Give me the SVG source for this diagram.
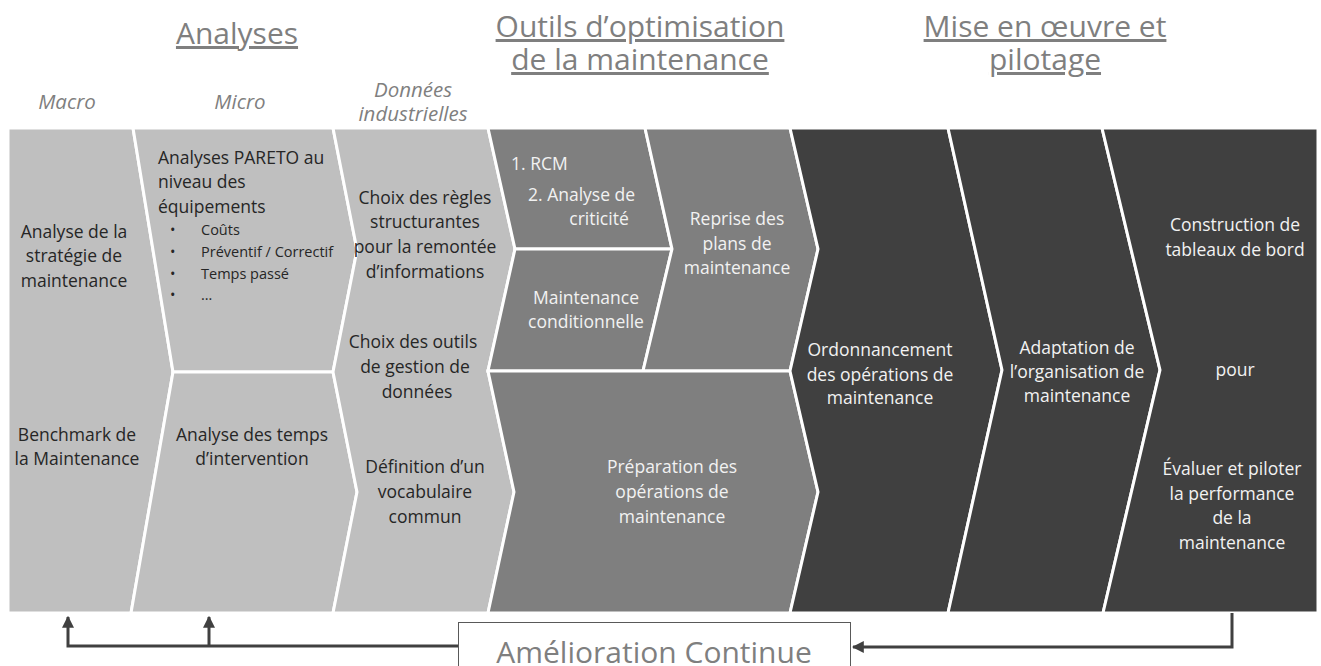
<svg xmlns="http://www.w3.org/2000/svg" width="1321" height="666" viewBox="0 0 1321 666">
<defs>
<style>
.light{fill:#bfbfbf;stroke:#ffffff;stroke-width:3;stroke-linejoin:miter}
.mid{fill:#7f7f7f;stroke:#ffffff;stroke-width:3;stroke-linejoin:miter}
.dark{fill:#404040;stroke:#ffffff;stroke-width:3;stroke-linejoin:miter}
text{font-family:"Open Sans","Noto Sans","Liberation Sans",sans-serif}
.t{font-size:17.5px;fill:#262626;text-anchor:middle}
.tl{font-size:17.5px;fill:#262626}
.s{font-size:14.5px;fill:#262626}
.w{font-size:17.5px;fill:#f2f2f2;text-anchor:middle}
.wl{font-size:17.5px;fill:#f2f2f2}
.h{font-size:30px;fill:#7f7f7f;text-anchor:middle;text-decoration:underline}
.sub{font-size:20.5px;fill:#7f7f7f;text-anchor:middle;font-style:italic}
.conn{fill:none;stroke:#404040;stroke-width:3}
</style>
<marker id="ah" viewBox="0 0 10 10" refX="9" refY="5" markerWidth="4" markerHeight="4" orient="auto" markerUnits="strokeWidth">
<path d="M0,0 L10,5 L0,10 z" fill="#404040"/>
</marker>
</defs>
<rect width="1321" height="666" fill="#ffffff"/>

<g id="headers">
<text class="h" x="237" y="44">Analyses</text>
<text class="h" x="640" y="37">Outils d’optimisation</text>
<text class="h" x="640" y="70">de la maintenance</text>
<text class="h" x="1045" y="37">Mise en œuvre et</text>
<text class="h" x="1045" y="70">pilotage</text>
<text class="sub" x="67" y="109">Macro</text>
<text class="sub" x="240" y="109">Micro</text>
<text class="sub" x="413" y="97">Données</text>
<text class="sub" x="413" y="121">industrielles</text>
</g>

<g id="macro">
<polygon class="light" points="8,128 133,128 173,372 131,613 8,613"/>
<text class="t" x="74" y="238">Analyse de la</text>
<text class="t" x="74" y="262">stratégie de</text>
<text class="t" x="74" y="287">maintenance</text>
<text class="t" x="77" y="441">Benchmark de</text>
<text class="t" x="77" y="465">la Maintenance</text>
</g>

<g id="micro-upper">
<polygon class="light" points="133,128 333,128 357,250 333,372 173,372"/>
<text class="tl" x="158" y="164">Analyses PARETO au</text>
<text class="tl" x="158" y="188">niveau des</text>
<text class="tl" x="158" y="213">équipements</text>
<text class="s" x="170" y="235">•</text><text class="s" x="201" y="235">Coûts</text>
<text class="s" x="170" y="257">•</text><text class="s" x="201" y="257">Préventif / Correctif</text>
<text class="s" x="170" y="279">•</text><text class="s" x="201" y="279">Temps passé</text>
<text class="s" x="170" y="300">•</text><text class="s" x="201" y="300">…</text>
</g>

<g id="micro-lower">
<polygon class="light" points="173,372 333,372 357,492 333,613 131,613"/>
<text class="t" x="252" y="441">Analyse des temps</text>
<text class="t" x="252" y="465">d’intervention</text>
</g>

<g id="donnees">
<polygon class="light" points="333,128 488,128 515,249 488,371 514,492 488,613 333,613 357,492 333,372 357,250"/>
<text class="t" x="425" y="204">Choix des règles</text>
<text class="t" x="425" y="228">structurantes</text>
<text class="t" x="425" y="253">pour la remontée</text>
<text class="t" x="425" y="278">d’informations</text>
<text class="t" x="413" y="348">Choix des outils</text>
<text class="t" x="415" y="373">de gestion de</text>
<text class="t" x="417" y="398">données</text>
<text class="t" x="425" y="473">Définition d’un</text>
<text class="t" x="425" y="498">vocabulaire</text>
<text class="t" x="425" y="523">commun</text>
</g>

<g id="rcm">
<polygon class="mid" points="488,128 645,128 672,249 515,249"/>
<text class="wl" x="511" y="170">1. RCM</text>
<text class="wl" x="528" y="201">2.  Analyse de</text>
<text class="w" x="599" y="225">criticité</text>
</g>

<g id="maint-cond">
<polygon class="mid" points="515,249 672,249 643,371 488,371"/>
<text class="w" x="586" y="304">Maintenance</text>
<text class="w" x="586" y="328">conditionnelle</text>
</g>

<g id="reprise">
<polygon class="mid" points="645,128 790,128 818,249 790,371 643,371 672,249"/>
<text class="w" x="737" y="225">Reprise des</text>
<text class="w" x="737" y="250">plans de</text>
<text class="w" x="737" y="274">maintenance</text>
</g>

<g id="preparation">
<polygon class="mid" points="488,371 790,371 818,492 790,613 488,613 514,492"/>
<text class="w" x="672" y="473">Préparation des</text>
<text class="w" x="672" y="498">opérations de</text>
<text class="w" x="672" y="523">maintenance</text>
</g>

<g id="ordonnancement">
<polygon class="dark" points="790,128 948,128 1002,370 948,613 790,613 818,492 790,371 818,249"/>
<text class="w" x="880" y="356">Ordonnancement</text>
<text class="w" x="880" y="381">des opérations de</text>
<text class="w" x="880" y="404">maintenance</text>
</g>

<g id="adaptation">
<polygon class="dark" points="948,128 1102,128 1160,370 1103,613 948,613 1002,370"/>
<text class="w" x="1077" y="354">Adaptation de</text>
<text class="w" x="1077" y="378">l’organisation de</text>
<text class="w" x="1077" y="402">maintenance</text>
</g>

<g id="pilotage">
<polygon class="dark" points="1102,128 1318,128 1318,613 1103,613 1160,370"/>
<text class="w" x="1235" y="231">Construction de</text>
<text class="w" x="1235" y="256">tableaux de bord</text>
<text class="w" x="1235" y="376">pour</text>
<text class="w" x="1232" y="475">Évaluer et piloter</text>
<text class="w" x="1232" y="500">la performance</text>
<text class="w" x="1232" y="524">de la</text>
<text class="w" x="1232" y="549">maintenance</text>
</g>

<g id="connectors">
<path class="conn" d="M1232,613 V647 H853" marker-end="url(#ah)"/>
<path class="conn" d="M458,646 H68 V617" marker-end="url(#ah)"/>
<path class="conn" d="M209,646 V617" marker-end="url(#ah)"/>
</g>

<g id="amelioration">
<rect x="458.5" y="622.5" width="392" height="50" fill="#ffffff" stroke="#595959" stroke-width="1"/>
<text x="654" y="663" style="font-size:30px;fill:#7f7f7f;text-anchor:middle">Amélioration Continue</text>
</g>
</svg>
